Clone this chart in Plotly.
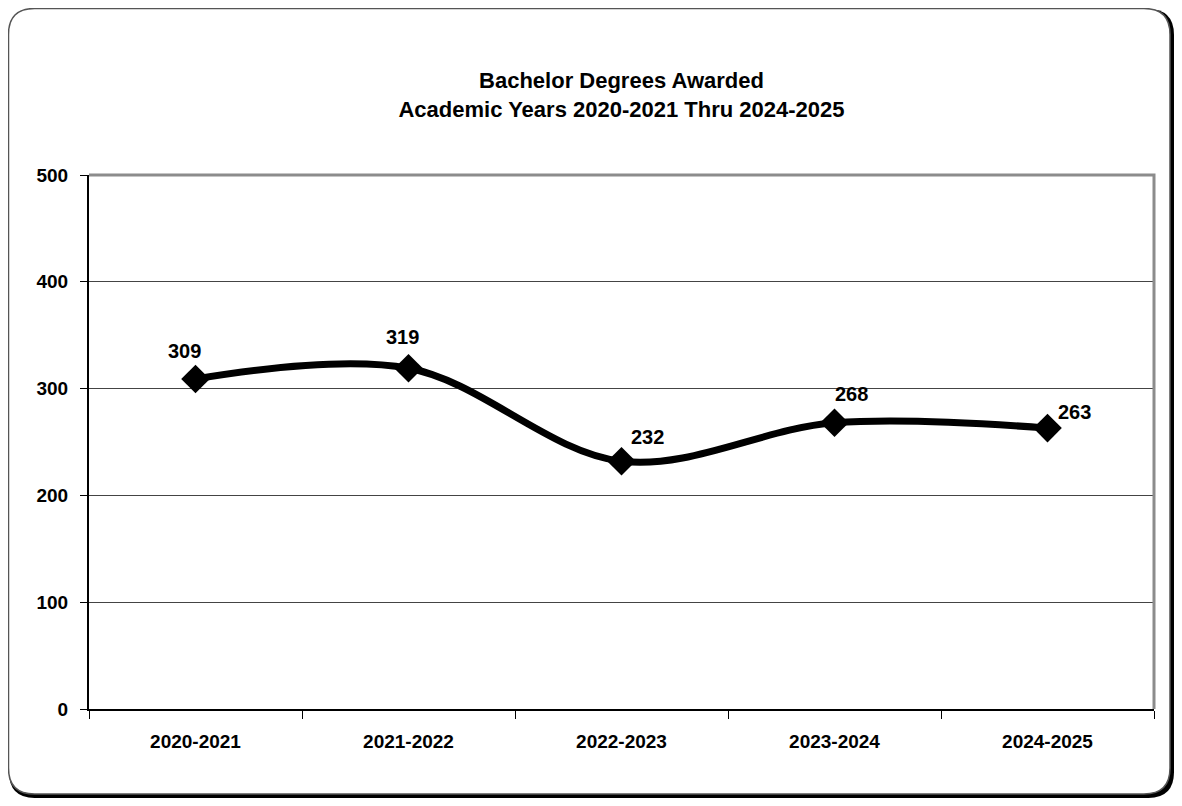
"""Bachelor degrees awarded, academic years 2020-2021 thru 2024-2025."""
import plotly.graph_objects as go

YEARS = ["2020-2021", "2021-2022", "2022-2023", "2023-2024", "2024-2025"]
DEGREES = [309, 319, 232, 268, 263]
Y_TICKS = [0, 100, 200, 300, 400, 500]

# label offsets (px) from each marker, as placed in the original
LABEL_SHIFT = [(-11, 28), (-6, 31), (26, 24), (17, 29), (27, 16)]

# page body has an 8px margin, so the figure is 16px smaller than the window
W, H = 1166, 790
L, R, T, B = 81, 20, 167, 89
FONT = "Liberation Sans Narrow, Arial Narrow, Liberation Sans, Arial, sans-serif"


def px(x, y):
    """pixel -> paper coords"""
    return (x - L) / (W - L - R), (H - B - y) / (H - T - B)


def rounded_box(x0, y0, x1, y1, r):
    pts = [
        ("M", (x0 + r, y0)), ("L", (x1 - r, y0)), ("Q", (x1, y0), (x1, y0 + r)),
        ("L", (x1, y1 - r)), ("Q", (x1, y1), (x1 - r, y1)),
        ("L", (x0 + r, y1)), ("Q", (x0, y1), (x0, y1 - r)),
        ("L", (x0, y0 + r)), ("Q", (x0, y0), (x0 + r, y0)),
    ]
    out = []
    for cmd, *coords in pts:
        out.append(cmd + " ".join("%.5f,%.5f" % px(*c) for c in coords))
    return " ".join(out) + " Z"


fig = go.Figure()
fig.add_scatter(
    x=YEARS, y=DEGREES, mode="lines+markers",
    line=dict(color="black", width=7, shape="spline", smoothing=1),
    marker=dict(symbol="diamond", size=22, color="black"),
    hoverinfo="x+y", showlegend=False,
)

for (yr, val), (dx, dy) in zip(zip(YEARS, DEGREES), LABEL_SHIFT):
    fig.add_annotation(x=yr, y=val, text=str(val), showarrow=False,
                       xshift=dx, yshift=dy,
                       font=dict(size=20, color="black", family=FONT, weight="bold"))

# card border with shadow
fig.add_shape(type="path", xref="paper", yref="paper", layer="below",
              path=rounded_box(1, 1, 1166, 790, 26), fillcolor="black", line_width=0)
fig.add_shape(type="path", xref="paper", yref="paper", layer="below",
              path=rounded_box(0.5, 0.5, 1162, 786, 26), fillcolor="white",
              line=dict(color="#555555", width=1.5))
# top / right frame of the plot area in grey
fig.add_shape(type="path", xref="paper", yref="paper", layer="above",
              path="M0,1 L1,1 L1,0", line=dict(color="#8c8c8c", width=3))

fig.update_layout(
    width=W, height=H,
    margin=dict(l=L, r=R, t=T, b=B),
    paper_bgcolor="white", plot_bgcolor="white",
    font=dict(family=FONT, color="black", size=19, weight="bold"),
    title=dict(text="Bachelor Degrees Awarded<br>Academic Years 2020-2021 Thru 2024-2025",
               x=0.5, xref="paper", xanchor="center",
               yref="container", y=1 - 80 / H, yanchor="middle",
               font=dict(size=22, weight="bold")),
)
fig.update_xaxes(
    range=[-0.5, len(YEARS) - 0.5],
    showgrid=False, showline=True, linecolor="black", linewidth=2,
    ticks="outside", tickson="boundaries", ticklen=8, tickcolor="black", tickwidth=1,
    tickfont=dict(size=19, weight="bold"), ticklabelstandoff=14,
)
fig.update_yaxes(
    range=[0, 500], tickvals=Y_TICKS, showgrid=True, gridcolor="#444444", gridwidth=1,
    showline=True, linecolor="black", linewidth=2, zeroline=False,
    ticks="outside", ticklen=7, tickcolor="black", tickwidth=1,
    tickfont=dict(size=19, weight="bold"), ticklabelstandoff=8,
)

fig.write_html("out.html")
